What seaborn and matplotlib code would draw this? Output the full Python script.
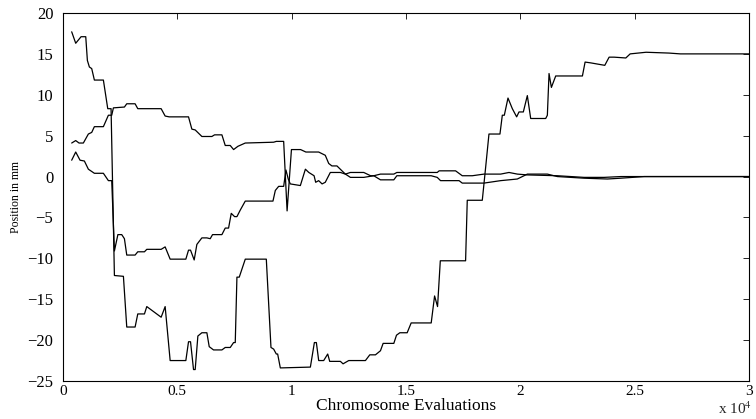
import matplotlib
matplotlib.use("Agg")
import matplotlib.pyplot as plt
import seaborn as sns
import pandas as pd
import numpy as np

# ---- data (x in chromosome evaluations, y in mm) ----
s1_x = [380, 556, 790, 995, 1066, 1153, 1256, 1372, 1766, 1957, 2102, 2248, 2642, 2788, 3153,
        3270, 3562, 3664, 4292, 4467, 4686, 5372, 5489, 5577, 5708, 5781, 5898, 6073, 6292, 6394,
        6583, 6949, 7095, 7314, 7460, 7533, 7606, 7708, 7971, 8891, 9095, 9212, 9328, 9387, 9504,
        10818, 10993, 11080, 11182, 11401, 11576, 11664, 12131, 12248, 12496, 13226, 13416, 13664,
        13883, 14000, 14467, 14584, 14730, 15051, 15226, 16102, 16250, 16380, 16500, 17606, 17679,
        18336, 18482, 18628, 19109, 19212, 19300, 19460, 19650, 19839, 19941, 20131, 20306, 20453,
        21110, 21182, 21255, 21358, 21547, 22715, 22832, 23080, 23693, 23883, 24102, 24613, 24803,
        25500, 26500, 27000, 30000]
s1_y = [17.7, 16.3, 17.1, 17.1, 14.2, 13.4, 13.2, 11.8, 11.8, 8.3, 8.3, -12.1, -12.2, -18.4, -18.4,
        -16.8, -16.8, -15.9, -17.2, -15.9, -22.5, -22.5, -20.2, -20.2, -23.6, -23.6, -19.5, -19.1, -19.1, -20.8,
        -21.2, -21.2, -20.9, -20.9, -20.3, -20.3, -12.3, -12.3, -10.1, -10.1, -20.9, -21.1, -21.7, -21.7, -23.4,
        -23.3, -20.3, -20.3, -22.5, -22.5, -21.7, -22.6, -22.6, -22.9, -22.5, -22.5, -21.8, -21.8,
        -21.3, -20.4, -20.4, -19.4, -19.1, -19.1, -17.9, -17.9, -14.6, -15.9, -10.3, -10.3, -2.9,
        -2.9, 1.1, 5.2, 5.2, 7.5, 7.5, 9.6, 8.3, 7.3, 7.9, 7.9, 9.9, 7.1,
        7.1, 7.5, 12.6, 10.9, 12.3, 12.3, 14.0, 13.9, 13.6, 14.6, 14.6, 14.5, 15.0,
        15.2, 15.1, 15.0, 15.0]

s2_x = [380, 556, 701, 890, 1109, 1256, 1372, 1766, 1985, 2131, 2204, 2686, 2788, 3153, 3270,
        4292, 4467, 4642, 5489, 5635, 5781, 6073, 6511, 6628, 6949, 7095, 7314, 7460, 7650, 7971,
        9212, 9328, 9650, 9800, 9990, 10390, 10620, 11180, 11470, 11620, 11760, 11980, 12200, 12350,
        12569, 13153, 13450, 13591, 13883, 14467, 14600, 16365, 16450, 17168, 17460, 17900, 18409,
        19139, 19504, 19869, 20307, 21620, 22788, 23664, 24400, 25416, 30000]
s2_y = [4.1, 4.4, 4.1, 4.1, 5.2, 5.4, 6.1, 6.1, 7.5, 7.5, 8.4, 8.5, 8.9, 8.9, 8.3,
        8.3, 7.4, 7.3, 7.3, 5.8, 5.7, 4.9, 4.9, 5.1, 5.1, 3.8, 3.8, 3.3, 3.7, 4.1,
        4.2, 4.3, 4.3, -4.2, 3.3, 3.3, 3.0, 3.0, 2.6, 1.6, 1.3, 1.3, 0.7, 0.3,
        0.5, 0.5, 0.1, 0.1, 0.3, 0.3, 0.5, 0.5, 0.7, 0.7, 0.1, 0.1, 0.3,
        0.3, 0.5, 0.3, 0.2, 0.1, -0.1, -0.1, 0.0, 0.0, 0.0]

s3_x = [380, 556, 745, 935, 1109, 1372, 1766, 1985, 2131, 2248, 2400, 2569, 2686, 2788, 3153,
        3270, 3562, 3664, 4292, 4467, 4686, 5372, 5489, 5577, 5737, 5854, 6073, 6292, 6438, 6540,
        6949, 7095, 7241, 7358, 7504, 7606, 7752, 7971, 9182, 9285, 9431, 9650, 9750, 9850, 9940,
        10380, 10600, 10750, 10980, 11050, 11180, 11330, 11470, 11690, 12131, 12350, 12569, 13153,
        13591, 13883, 14467, 14600, 16100, 16365, 16511, 17320, 17460, 18409, 19139, 19869, 20307,
        21182, 21620, 22788, 23810, 24394, 25416, 30000]
s3_y = [2.0, 3.0, 2.0, 1.9, 0.9, 0.4, 0.4, -0.5, -0.5, -9.1, -7.1, -7.1, -7.6, -9.6, -9.6,
        -9.2, -9.2, -8.9, -8.9, -8.6, -10.1, -10.1, -9.0, -9.0, -10.2, -8.3, -7.5, -7.5, -7.6, -7.1,
        -7.1, -6.3, -6.3, -4.5, -4.9, -4.9, -4.1, -3.0, -3.0, -1.7, -1.2, -1.2, 0.8, -0.3, -0.9,
        -1.1, 0.9, 0.5, 0.1, -0.7, -0.5, -0.9, -0.7, 0.5, 0.5, 0.3, -0.1, -0.1,
        0.1, -0.4, -0.4, 0.1, 0.1, -0.1, -0.5, -0.5, -0.8, -0.8, -0.5, -0.3, 0.3,
        0.3, 0.0, -0.2, -0.3, -0.2, 0.0, 0.0]

x_ticks = [0, 5000, 10000, 15000, 20000, 25000, 30000]
x_tick_labels = ["0", "0.5", "1", "1.5", "2", "2.5", "3"]
y_ticks = [-25, -20, -15, -10, -5, 0, 5, 10, 15, 20]

df = pd.concat([
    pd.DataFrame({"x": s1_x, "y": s1_y, "series": "s1"}),
    pd.DataFrame({"x": s2_x, "y": s2_y, "series": "s2"}),
    pd.DataFrame({"x": s3_x, "y": s3_y, "series": "s3"}),
], ignore_index=True)

sns.set_theme(style="white")
plt.rcParams["font.family"] = ["Liberation Serif", "DejaVu Serif"]
plt.rcParams["mathtext.fontset"] = "stix"
plt.rcParams["axes.unicode_minus"] = True

fig = plt.figure(figsize=(7.56, 4.19), dpi=100)
ax = fig.add_axes([63 / 756, 1 - 381 / 419, 686 / 756, 368 / 419])

sns.lineplot(data=df, x="x", y="y", hue="series", units="series", estimator=None,
             sort=False, palette=["black", "black", "black"], linewidth=0.9,
             legend=False, ax=ax)

ax.set_xlim(0, 30000)
ax.set_ylim(-25, 20)
ax.set_xticks(x_ticks)
ax.set_xticklabels(x_tick_labels)
ax.set_yticks(y_ticks)
ax.set_yticklabels([str(v).replace("-", "\u2212") for v in y_ticks])
ax.tick_params(direction="in", top=True, right=True, length=4, width=0.6,
               colors="black")
ax.tick_params(axis="y", pad=7, labelsize=12)
ax.tick_params(axis="x", pad=3, labelsize=11)
for sp in ax.spines.values():
    sp.set_color("black")
    sp.set_linewidth(0.8)

ax.set_xlabel("Chromosome Evaluations", fontsize=12.5, labelpad=0, color="black")
ax.set_ylabel("Position in mm", fontsize=8.5, labelpad=4, color="black")

fig.text(752 / 756, 1 - 414 / 419, r"x 10$^{4}$", ha="right", va="baseline", fontsize=11)

fig.savefig("out.png", dpi=100, facecolor="white")
